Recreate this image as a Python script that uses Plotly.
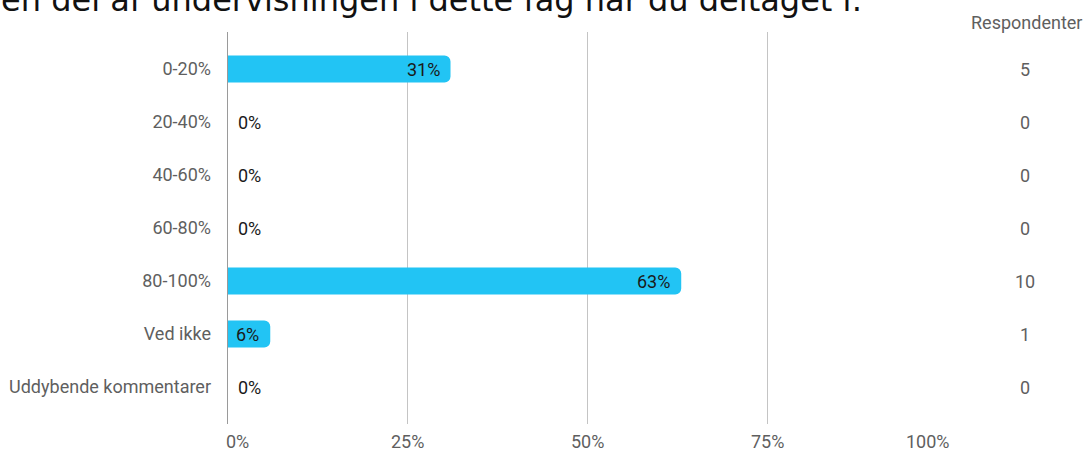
import plotly.graph_objects as go

categories = ["0-20%", "20-40%", "40-60%", "60-80%", "80-100%", "Ved ikke", "Uddybende kommentarer"]
percent = [31, 0, 0, 0, 63, 6, 0]
respondents = [5, 0, 0, 0, 10, 1, 0]
tick_vals = [0, 25, 50, 75, 100]
tick_text = ["0%", "25%", "50%", "75%", "100%"]
title_text = "Hvor stor en del af undervisningen i dette fag har du deltaget i:"

W, H = 1083, 451
L, R, T, B = 227, 135, 32, 27
pw = W - L - R
n = len(categories)

label_font = dict(family="Roboto", size=18, color="#5f5f5f")
value_font = dict(family="Roboto", size=18, color="#1a1a1a")

fig = go.Figure()
fig.add_trace(go.Bar(
    x=percent, y=categories, orientation="h",
    marker=dict(color="#22c4f4", line=dict(width=0)),
    width=0.51, hoverinfo="skip",
))

ann = []
for c, p, r in zip(categories, percent, respondents):
    if p > 0:
        ann.append(dict(x=p, y=c, xref="x", yref="y", text=f"{p}%", showarrow=False,
                        xanchor="right", xshift=-9, font=value_font))
    else:
        ann.append(dict(x=0, y=c, xref="x", yref="y", text=f"{p}%", showarrow=False,
                        xanchor="left", xshift=9, font=value_font))
    ann.append(dict(x=(1025 - L) / pw, y=c, xref="paper", yref="y", text=str(r),
                    showarrow=False, xanchor="center", font=label_font))

ann.append(dict(x=(1026 - L) / pw, y=1, xref="paper", yref="paper", yshift=10,
                text="Respondenter", showarrow=False, xanchor="center", yanchor="middle",
                font=label_font))

for v, t in zip(tick_vals, tick_text):
    if v == tick_vals[0]:
        xa, xs = "left", -3
    elif v == tick_vals[-1]:
        xa, xs = "right", 4
    else:
        xa, xs = "center", 0
    ann.append(dict(x=v, y=0, xref="x", yref="paper", yshift=-17, text=t, showarrow=False,
                    xanchor=xa, xshift=xs, yanchor="middle", font=label_font))

ann.append(dict(x=(864 - L) / pw, y=1, xref="paper", yref="paper", yshift=T,
                text=title_text, showarrow=False, xanchor="right", yanchor="middle",
                font=dict(family="DejaVu Sans", size=32, color="#111111")))

fig.update_layout(
    width=W, height=H,
    margin=dict(l=L, r=R, t=T, b=B, pad=0, autoexpand=False),
    plot_bgcolor="white", paper_bgcolor="white",
    barcornerradius=6,
    showlegend=False,
    annotations=ann,
    xaxis=dict(range=[0, 100], tickvals=tick_vals, showticklabels=False,
               showgrid=True, gridcolor="#c4c4c4", gridwidth=1, automargin=False,
               zeroline=False, showline=False, fixedrange=True),
    yaxis=dict(type="category", categoryorder="array", categoryarray=categories,
               range=[n - 1 + 0.698, -0.698], showgrid=False, zeroline=False,
               tickfont=label_font, ticks="", ticklabelstandoff=15, automargin=False,
               fixedrange=True),
    shapes=[dict(type="line", xref="x", yref="paper", x0=0, x1=0, y0=0, y1=1,
                 line=dict(color="#9a9a9a", width=2), layer="above")],
)

fig.write_html(
    "out.html",
    config={"displayModeBar": False},
    post_script="document.body.style.margin='0';document.body.style.overflow='hidden';",
)
